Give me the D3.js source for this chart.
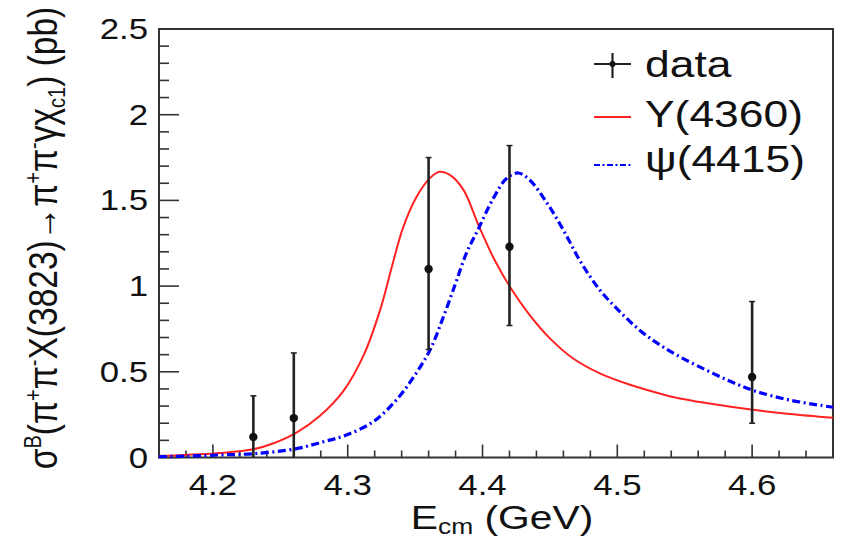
<!DOCTYPE html>
<html>
<head>
<meta charset="utf-8">
<script src="https://cdn.jsdelivr.net/npm/d3@7"></script>
<style>
  html, body { margin: 0; padding: 0; background: #fff; }
  svg { display: block; }
  text { font-family: "Liberation Sans", Arial, Helvetica, sans-serif; fill: #111; }
</style>
</head>
<body>
<svg id="chart" width="842" height="538"></svg>
<script>
// Measured cross sections at each c.m. energy (pb)
const energies   = [4.23, 4.26, 4.36, 4.42, 4.60];
const sigma      = [0.12, 0.23, 1.10, 1.23, 0.47];
const errLow     = [0.12, 0.23, 0.47, 0.46, 0.27];
const errHigh    = [0.24, 0.38, 0.65, 0.59, 0.44];

// Line shape assuming production through Y(4360): [E (GeV), sigma (pb)]
const shapeY4360 = [
  [4.160, 0.010], [4.180, 0.015], [4.205, 0.026], [4.230, 0.048], [4.245, 0.083],
  [4.262, 0.145], [4.279, 0.240], [4.297, 0.390], [4.312, 0.600], [4.324, 0.860],
  [4.333, 1.120], [4.341, 1.340], [4.351, 1.520], [4.361, 1.630], [4.368, 1.667],
  [4.376, 1.648], [4.386, 1.560], [4.397, 1.356], [4.409, 1.152], [4.421, 0.987],
  [4.435, 0.831], [4.450, 0.695], [4.467, 0.579], [4.487, 0.491], [4.510, 0.423],
  [4.532, 0.372], [4.542, 0.352], [4.566, 0.318], [4.602, 0.277], [4.628, 0.254],
  [4.660, 0.232]
];

// Line shape assuming production through psi(4415)
const shapePsi4415 = [
  [4.160, 0.005], [4.180, 0.008], [4.205, 0.015], [4.230, 0.022], [4.261, 0.050],
  [4.282, 0.092], [4.299, 0.131], [4.319, 0.209], [4.336, 0.335], [4.349, 0.471],
  [4.361, 0.627], [4.371, 0.821], [4.380, 1.016], [4.388, 1.191], [4.397, 1.335],
  [4.408, 1.512], [4.418, 1.629], [4.4265, 1.660], [4.435, 1.619], [4.448, 1.483],
  [4.460, 1.327], [4.472, 1.152], [4.487, 0.977], [4.502, 0.850], [4.517, 0.740],
  [4.532, 0.655], [4.547, 0.585], [4.566, 0.510], [4.585, 0.440], [4.602, 0.388],
  [4.628, 0.335], [4.660, 0.293]
];

const xTickValues = [4.2, 4.3, 4.4, 4.5, 4.6];
const yTickValues = [0, 0.5, 1, 1.5, 2, 2.5];
const legendLabels = ["data", "Y(4360)", "\u03C8(4415)"];

const svg = d3.select("#chart");
const frameL = 159, frameR = 833, frameT = 29, frameB = 457.5;
const stretch = 1.2;   // glyphs are drawn slightly wide

const x = d3.scaleLinear().domain([4.16, 4.66]).range([frameL, frameR]);
const y = d3.scaleLinear().domain([0, 2.5]).range([frameB, frameT]);

const axisColor = "#333";

// frame
svg.append("rect")
  .attr("x", frameL).attr("y", frameT)
  .attr("width", frameR - frameL).attr("height", frameB - frameT)
  .attr("fill", "none").attr("stroke", axisColor).attr("stroke-width", 2);

// x ticks (inside the frame)
const xMinor = d3.range(0, 26).map(i => +(4.16 + i * 0.02).toFixed(2));
svg.append("g").selectAll("line").data(xMinor).join("line")
  .attr("x1", d => x(d)).attr("x2", d => x(d))
  .attr("y1", frameB)
  .attr("y2", d => xTickValues.some(v => Math.abs(v - d) < 1e-6) ? frameB - 13 : frameB - 7)
  .attr("stroke", axisColor).attr("stroke-width", 1.6);

// y ticks
const yMinor = d3.range(0, 26).map(i => +(i * 0.1).toFixed(1));
svg.append("g").selectAll("line").data(yMinor).join("line")
  .attr("y1", d => y(d)).attr("y2", d => y(d))
  .attr("x1", frameL)
  .attr("x2", d => yTickValues.some(v => Math.abs(v - d) < 1e-6) ? frameL + 20 : frameL + 10)
  .attr("stroke", axisColor).attr("stroke-width", 1.6);

// tick labels
svg.append("g").selectAll("text").data(xTickValues).join("text")
  .attr("transform", d => `translate(${x(d)},495) scale(${stretch},1)`)
  .attr("text-anchor", "middle").attr("font-size", 29)
  .text(d => d3.format(".1f")(d));

svg.append("g").selectAll("text").data(yTickValues).join("text")
  .attr("transform", d => `translate(148,${y(d) + 10}) scale(${stretch},1)`)
  .attr("text-anchor", "end").attr("font-size", 29)
  .text(d => d === 0 ? "0" : d3.format("~g")(d));

// axis titles
const xt = svg.append("text")
  .attr("transform", `translate(502,529) scale(${stretch},1)`)
  .attr("text-anchor", "middle").attr("font-size", 34);
xt.append("tspan").text("E");
xt.append("tspan").attr("font-size", 22).attr("dy", 5).text("cm");
xt.append("tspan").attr("dy", -5).text(" (GeV)");

const yt = svg.append("text")
  .attr("transform", `translate(57,238) scale(${stretch},1) rotate(-90)`)
  .attr("text-anchor", "middle").attr("font-size", 33.5);
const sup = (t) => yt.append("tspan").attr("font-size", 20).attr("dy", -13).text(t);
const sub = (t) => yt.append("tspan").attr("font-size", 20).attr("dy", 7).text(t);
const norm = (t, dy) => yt.append("tspan").attr("dy", dy).text(t);
norm("\u03C3", 0); sup("B");
norm("(\u03C0", 13); sup("+");
norm("\u03C0", 13); sup("-");
norm("X(3823)\u2192\u03C0", 13); sup("+");
norm("\u03C0", 13); sup("-");
norm("\u03B3\u03C7", 13); sub("c1");
norm(") (pb)", -7);

// model curves
const line = d3.line().x(d => x(d[0])).y(d => y(d[1])).curve(d3.curveCatmullRom.alpha(0.5));
const plot = svg.append("g");
plot.append("path").datum(shapeY4360)
  .attr("d", line).attr("fill", "none")
  .attr("stroke", "#f22").attr("stroke-width", 2);
plot.append("path").datum(shapePsi4415)
  .attr("d", line).attr("fill", "none")
  .attr("stroke", "#00f").attr("stroke-width", 3.2)
  .attr("stroke-dasharray", "8,3.5,2,3.5");

// data points with error bars
const pts = energies.map((e, i) => ({ e, v: sigma[i], lo: sigma[i] - errLow[i], hi: sigma[i] + errHigh[i] }));
const g = plot.append("g").attr("stroke", "#222").attr("stroke-width", 2.6);
g.selectAll("line.bar").data(pts).join("line").attr("class", "bar")
  .attr("x1", d => x(d.e)).attr("x2", d => x(d.e))
  .attr("y1", d => y(d.lo)).attr("y2", d => y(d.hi));
g.selectAll("line.capHi").data(pts).join("line").attr("class", "capHi")
  .attr("x1", d => x(d.e) - 3).attr("x2", d => x(d.e) + 3)
  .attr("y1", d => y(d.hi)).attr("y2", d => y(d.hi)).attr("stroke-width", 1.5);
g.selectAll("line.capLo").data(pts.filter(d => d.lo > 0.001)).join("line").attr("class", "capLo")
  .attr("x1", d => x(d.e) - 3).attr("x2", d => x(d.e) + 3)
  .attr("y1", d => y(d.lo)).attr("y2", d => y(d.lo)).attr("stroke-width", 1.5);
plot.append("g").selectAll("circle").data(pts).join("circle")
  .attr("cx", d => x(d.e)).attr("cy", d => y(d.v)).attr("r", 4.2).attr("fill", "#111");

// legend
const lg = svg.append("g");
const lx1 = 594, lx2 = 631, lRows = [64, 117, 165];
lg.append("line").attr("x1", lx1).attr("x2", lx2).attr("y1", lRows[0]).attr("y2", lRows[0])
  .attr("stroke", "#222").attr("stroke-width", 2.2);
lg.append("line").attr("x1", (lx1 + lx2) / 2).attr("x2", (lx1 + lx2) / 2).attr("y1", lRows[0] - 11).attr("y2", lRows[0] + 14)
  .attr("stroke", "#222").attr("stroke-width", 2.2);
lg.append("circle").attr("cx", (lx1 + lx2) / 2).attr("cy", lRows[0]).attr("r", 3).attr("fill", "#111");
lg.append("line").attr("x1", lx1).attr("x2", lx2).attr("y1", lRows[1]).attr("y2", lRows[1])
  .attr("stroke", "#f22").attr("stroke-width", 2);
lg.append("line").attr("x1", lx1).attr("x2", lx2).attr("y1", lRows[2]).attr("y2", lRows[2])
  .attr("stroke", "#00f").attr("stroke-width", 2).attr("stroke-dasharray", "6,2.5,2,2.5");
lg.selectAll("text").data(legendLabels).join("text")
  .attr("transform", (d, i) => `translate(645,${[77, 127, 172][i]}) scale(${stretch},1)`)
  .attr("font-size", 37)
  .text(d => d);
</script>
</body>
</html>
